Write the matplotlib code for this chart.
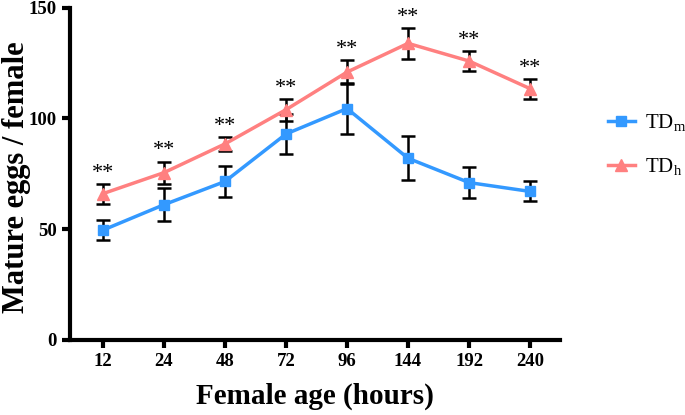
import matplotlib.pyplot as plt

# Data
AGE_LABELS = ['12', '24', '48', '72', '96', '144', '192', '240']
TDM_MEAN = [49.5, 61, 71.5, 93, 104.5, 82, 71, 67]
TDM_ERR = [4.5, 7.5, 7, 9, 11.5, 10, 7, 4.5]
TDH_MEAN = [66, 75.5, 88.5, 104, 121, 134, 126, 113.5]
TDH_ERR = [4.5, 5, 3, 5, 5.5, 7, 4.5, 4.5]
SIG_LABELS = ['**'] * 8

BLUE = '#3399ff'
RED = '#ff8080'

plt.rcParams['font.family'] = ['Liberation Serif', 'DejaVu Serif']

fig = plt.figure(figsize=(6.85, 4.15), dpi=100)
ax = fig.add_axes([70 / 685, 1 - 339.5 / 415, 490 / 685, 331.5 / 415])

x = list(range(len(AGE_LABELS)))

ax.errorbar(x, TDM_MEAN, yerr=TDM_ERR, color=BLUE, lw=2.5, marker='s', ms=7,
            ecolor='black', elinewidth=1.8, capsize=5, capthick=1.8,
            label='TD$_\\mathregular{m}$', zorder=3)
ax.errorbar(x, TDH_MEAN, yerr=TDH_ERR, color=RED, lw=2.5, marker='^', ms=8,
            ecolor='black', elinewidth=1.8, capsize=5, capthick=1.8,
            label='TD$_\\mathregular{h}$', zorder=3)

# significance stars above TDh bars
for xi, m, e, s in zip(x, TDH_MEAN, TDH_ERR, SIG_LABELS):
    ax.text(xi, m + e + 0.5, s, ha='center', va='bottom', fontsize=16)

ax.set_xlim(-0.54, 7.49)
ax.set_ylim(0, 150)
ax.set_xticks(x)
ax.set_xticklabels(AGE_LABELS)
ax.set_yticks([0, 50, 100, 150])

for side in ['top', 'right']:
    ax.spines[side].set_visible(False)
for side in ['left', 'bottom']:
    ax.spines[side].set_linewidth(3)

ax.tick_params(axis='both', width=3, length=6, labelsize=13.5)
for lbl in ax.get_xticklabels() + ax.get_yticklabels():
    lbl.set_fontweight('bold')

ax.set_xlabel('Female age (hours)', fontsize=21, fontweight='bold')
ax.set_ylabel('Mature eggs / female', fontsize=22, fontweight='bold')
ax.xaxis.set_label_coords(0.5, -0.131)
ax.yaxis.set_label_coords(-0.08, 0.49)

handles, labels = ax.get_legend_handles_labels()
handles = [h[0] for h in handles]
fig.legend(handles, labels, loc='center left', bbox_to_anchor=(589 / 685, 1 - 145 / 415),
           frameon=False, fontsize=15, handlelength=1.3, handletextpad=0.5,
           labelspacing=1.1)

fig.savefig('out.png', dpi=100)
